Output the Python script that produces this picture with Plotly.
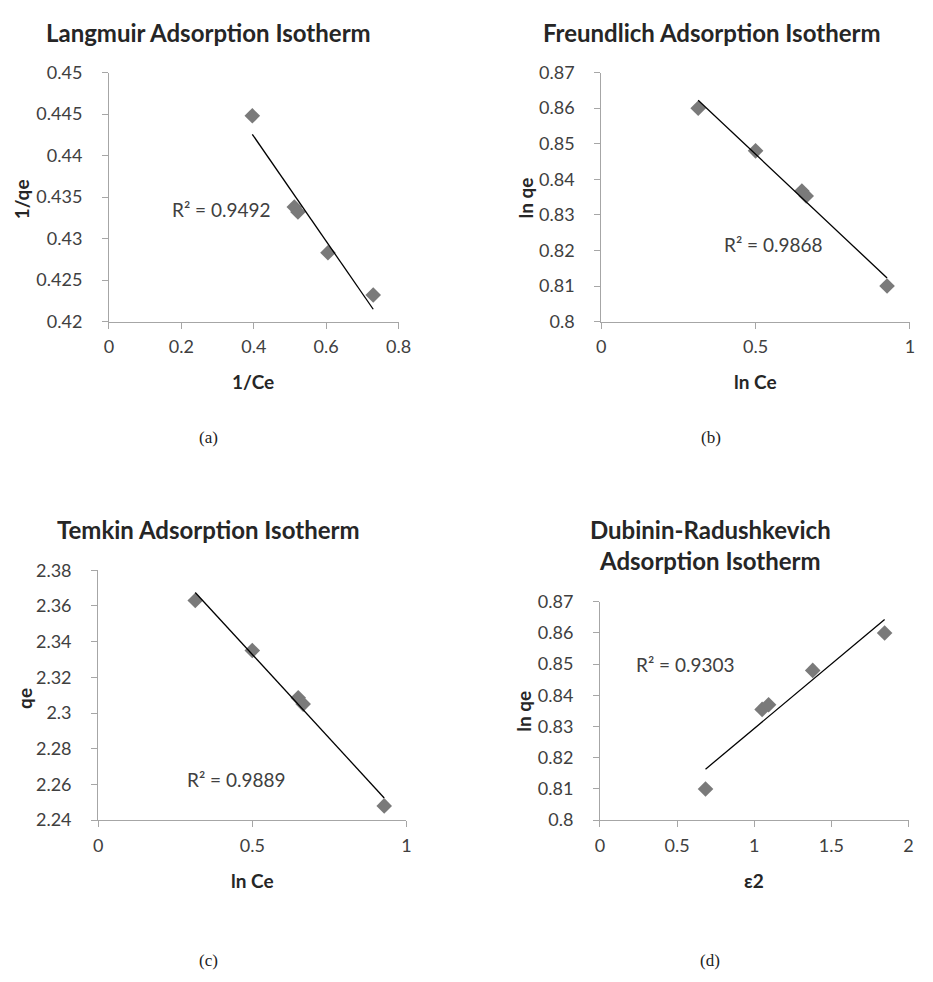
import numpy as np
import plotly.graph_objects as go

W, H = 933, 982

# ---- data ----
langmuir_x = [0.396, 0.512, 0.522, 0.605, 0.730]
langmuir_y = [0.4448, 0.4338, 0.4332, 0.4283, 0.4232]
freundlich_x = [0.314, 0.500, 0.650, 0.664, 0.926]
freundlich_y = [0.860, 0.848, 0.8367, 0.8353, 0.810]
temkin_x = [0.315, 0.500, 0.649, 0.665, 0.928]
temkin_y = [2.363, 2.335, 2.3085, 2.305, 2.248]
dr_x = [0.684, 1.051, 1.093, 1.379, 1.845]
dr_y = [0.810, 0.8355, 0.8370, 0.848, 0.860]

titles = ["Langmuir Adsorption Isotherm", "Freundlich Adsorption Isotherm",
          "Temkin Adsorption Isotherm", "Dubinin-Radushkevich<br>Adsorption Isotherm"]
x_titles = ["1/Ce", "ln Ce", "ln Ce", "ε2"]
y_titles = ["1/qe", "ln qe", "qe", "ln qe"]
r2_texts = ["R² = 0.9492", "R² = 0.9868", "R² = 0.9889", "R² = 0.9303"]
panel_labels = ["(a)", "(b)", "(c)", "(d)"]

x_ticks = [[0, 0.2, 0.4, 0.6, 0.8], [0, 0.5, 1], [0, 0.5, 1], [0, 0.5, 1, 1.5, 2]]
y_ticks = [[0.42, 0.425, 0.43, 0.435, 0.44, 0.445, 0.45],
           [0.8, 0.81, 0.82, 0.83, 0.84, 0.85, 0.86, 0.87],
           [2.24, 2.26, 2.28, 2.3, 2.32, 2.34, 2.36, 2.38],
           [0.8, 0.81, 0.82, 0.83, 0.84, 0.85, 0.86, 0.87]]

series = [(langmuir_x, langmuir_y), (freundlich_x, freundlich_y),
          (temkin_x, temkin_y), (dr_x, dr_y)]

# ---- layout geometry (pixels) ----
plot_boxes = [  # left, right, top, bottom
    (106, 401.3, 62, 316.7),
    (608, 922.7, 62, 316.7),
    (95, 409.3, 571, 826.7),
    (606.7, 921.3, 603.3, 826.7),
]
title_pos = [(207.5, 21), (720.7, 21), (207.5, 529), (719, 545)]
xt_pos = [(253, 378), (765, 378), (252, 888), (764, 888)]
yt_pos = [(17, 192), (531, 190), (20, 702), (529, 715)]
r2_pos = [(220.5, 202), (784, 238), (236, 785), (694, 667)]
lab_pos = [(207, 435), (720, 435), (207, 970), (719, 970)]


def px(x):
    return x / W


def py(y):
    return 1 - y / H


fig = go.Figure()
AX = "#a6a6a6"
TXT = "#404040"
FONT = "Lato"

for i, (xs, ys) in enumerate(series):
    n = "" if i == 0 else str(i + 1)
    xa, ya = "x" + n, "y" + n
    fig.add_trace(go.Scatter(
        x=xs, y=ys, mode="markers", xaxis=xa, yaxis=ya,
        marker=dict(symbol="diamond", size=12, color="#7a7a7a",
                    line=dict(width=0)),
        showlegend=False, cliponaxis=False))
    k, b = np.polyfit(xs, ys, 1)
    lx = np.array([min(xs), max(xs)])
    fig.add_trace(go.Scatter(
        x=lx, y=k * lx + b, mode="lines", xaxis=xa, yaxis=ya,
        line=dict(color="black", width=1.3), showlegend=False))

    l, r, t, btm = plot_boxes[i]
    fmt = lambda v: f"{v:g}"
    fig.update_layout(**{
        "xaxis" + n: dict(
            domain=[px(l), px(r)], anchor=ya,
            range=[x_ticks[i][0], x_ticks[i][-1]],
            tickvals=x_ticks[i], ticktext=[fmt(v) for v in x_ticks[i]],
            showline=True, linecolor=AX, linewidth=1, ticks="outside",
            tickcolor=AX, ticklen=6, showgrid=False, zeroline=False,
            tickfont=dict(family=FONT, size=18, color=TXT),
            ticklabelstandoff=3),
        "yaxis" + n: dict(
            domain=[py(btm), py(t)], anchor=xa,
            range=[y_ticks[i][0], y_ticks[i][-1]],
            tickvals=y_ticks[i], ticktext=[fmt(v) for v in y_ticks[i]],
            showline=True, linecolor=AX, linewidth=1, ticks="outside",
            tickcolor=AX, ticklen=6, showgrid=False, zeroline=False,
            tickfont=dict(family=FONT, size=18, color=TXT),
            ticklabelstandoff=16),
    })

def note(text, pos, font, angle=0):
    return dict(text=text, x=px(pos[0]), y=py(pos[1]), xref="paper",
                yref="paper", showarrow=False, xanchor="center",
                yanchor="middle", textangle=angle, font=font)


annots = []
for i in range(4):
    annots.append(note(f"<b>{titles[i]}</b>", title_pos[i],
                       dict(family=FONT, size=24, color="#262626")))
    annots.append(note(f"<b>{x_titles[i]}</b>", xt_pos[i],
                       dict(family=FONT, size=19, color="#262626")))
    annots.append(note(f"<b>{y_titles[i]}</b>", yt_pos[i],
                       dict(family=FONT, size=19, color="#262626"), angle=-90))
    annots.append(note(r2_texts[i], r2_pos[i],
                       dict(family=FONT, size=19, color=TXT)))
    annots.append(note(panel_labels[i], lab_pos[i],
                       dict(family="Liberation Serif", size=17, color="#222")))

fig.update_layout(width=W, height=H, margin=dict(l=0, r=0, t=0, b=0),
                  paper_bgcolor="white", plot_bgcolor="white",
                  annotations=annots)
fig.write_html("out.html")
